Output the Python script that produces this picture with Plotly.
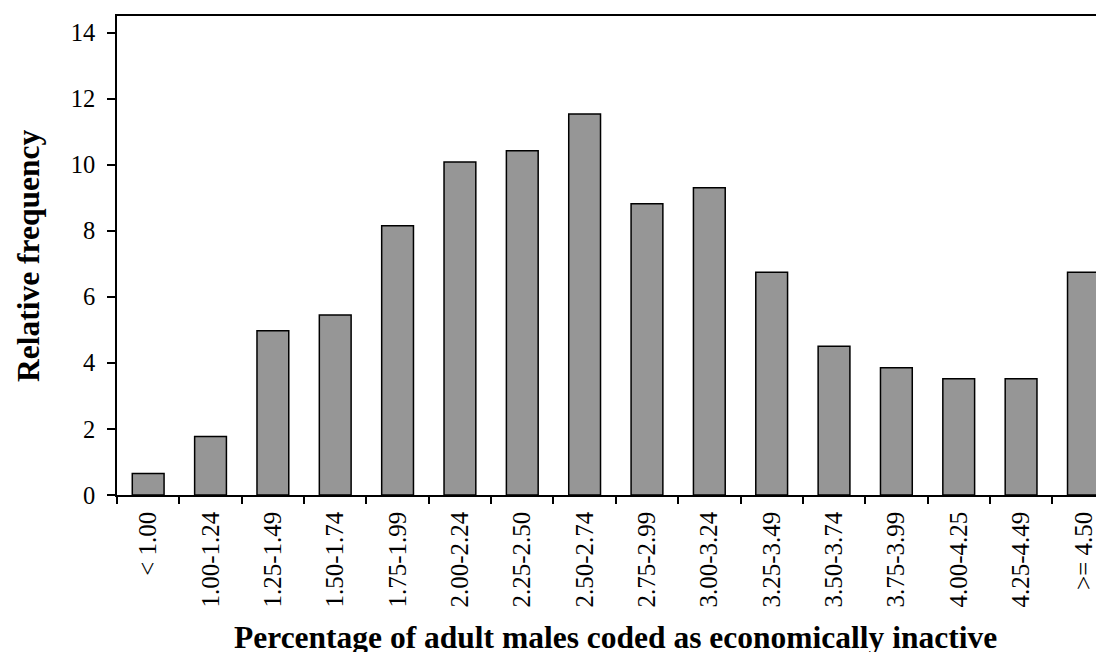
import plotly.graph_objects as go

categories = ["< 1.00", "1.00-1.24", "1.25-1.49", "1.50-1.74", "1.75-1.99", "2.00-2.24",
              "2.25-2.50", "2.50-2.74", "2.75-2.99", "3.00-3.24", "3.25-3.49", "3.50-3.74",
              "3.75-3.99", "4.00-4.25", "4.25-4.49", ">= 4.50"]
values = [0.65, 1.77, 4.97, 5.45, 8.15, 10.08, 10.42, 11.53, 8.82, 9.30, 6.74, 4.50,
          3.85, 3.52, 3.52, 6.74]
y_ticks = [0, 2, 4, 6, 8, 10, 12, 14]

FONT = "Liberation Serif, Times New Roman, serif"

# page body has an 8px margin; plot area should span x 117..1104, y 16..495 on the page
PL, PT, PB = 117, 16, 495
PW, PH = 1104 - PL, PB - PT

fig = go.Figure(go.Bar(
    x=categories, y=values,
    marker=dict(color="#969696", line=dict(color="black", width=1.5)),
    width=0.51,
))

fig.update_layout(
    width=1096, height=644,
    margin=dict(l=PL - 8, r=0, t=PT - 8, b=652 - PB),
    paper_bgcolor="white", plot_bgcolor="white",
    font=dict(family=FONT, color="black"),
    showlegend=False,
)
fig.update_xaxes(
    type="category", range=[-0.5, 15.33],
    showline=True, linecolor="black", linewidth=1.5, mirror=True,
    ticks="outside", ticklen=7, tickwidth=1.5, tickcolor="black",
    tickson="boundaries", tickangle=-90,
    tickfont=dict(family=FONT, size=25, color="black"),
    ticklabelstandoff=5,
    showgrid=False, zeroline=False,
)
fig.update_yaxes(
    range=[0, 14.5], tickvals=y_ticks,
    showline=True, linecolor="black", linewidth=1.5,
    ticks="outside", ticklen=8, tickwidth=1.5, tickcolor="black",
    tickfont=dict(family=FONT, size=24.5, color="black"),
    ticklabelstandoff=7,
    showgrid=False, zeroline=False,
)
fig.add_annotation(
    text="<b>Percentage of adult males coded as economically inactive</b>",
    xref="paper", yref="paper", x=(615 - PL) / PW, y=(PB - 637) / PH,
    xanchor="center", yanchor="middle", showarrow=False,
    font=dict(family=FONT, size=31.5, color="black"),
)
fig.add_annotation(
    text="<b>Relative frequency</b>",
    xref="paper", yref="paper", x=(28 - PL) / PW, y=(PB - 256) / PH,
    xanchor="center", yanchor="middle", showarrow=False, textangle=-90,
    font=dict(family=FONT, size=31.5, color="black"),
)
fig.write_html("out.html")
